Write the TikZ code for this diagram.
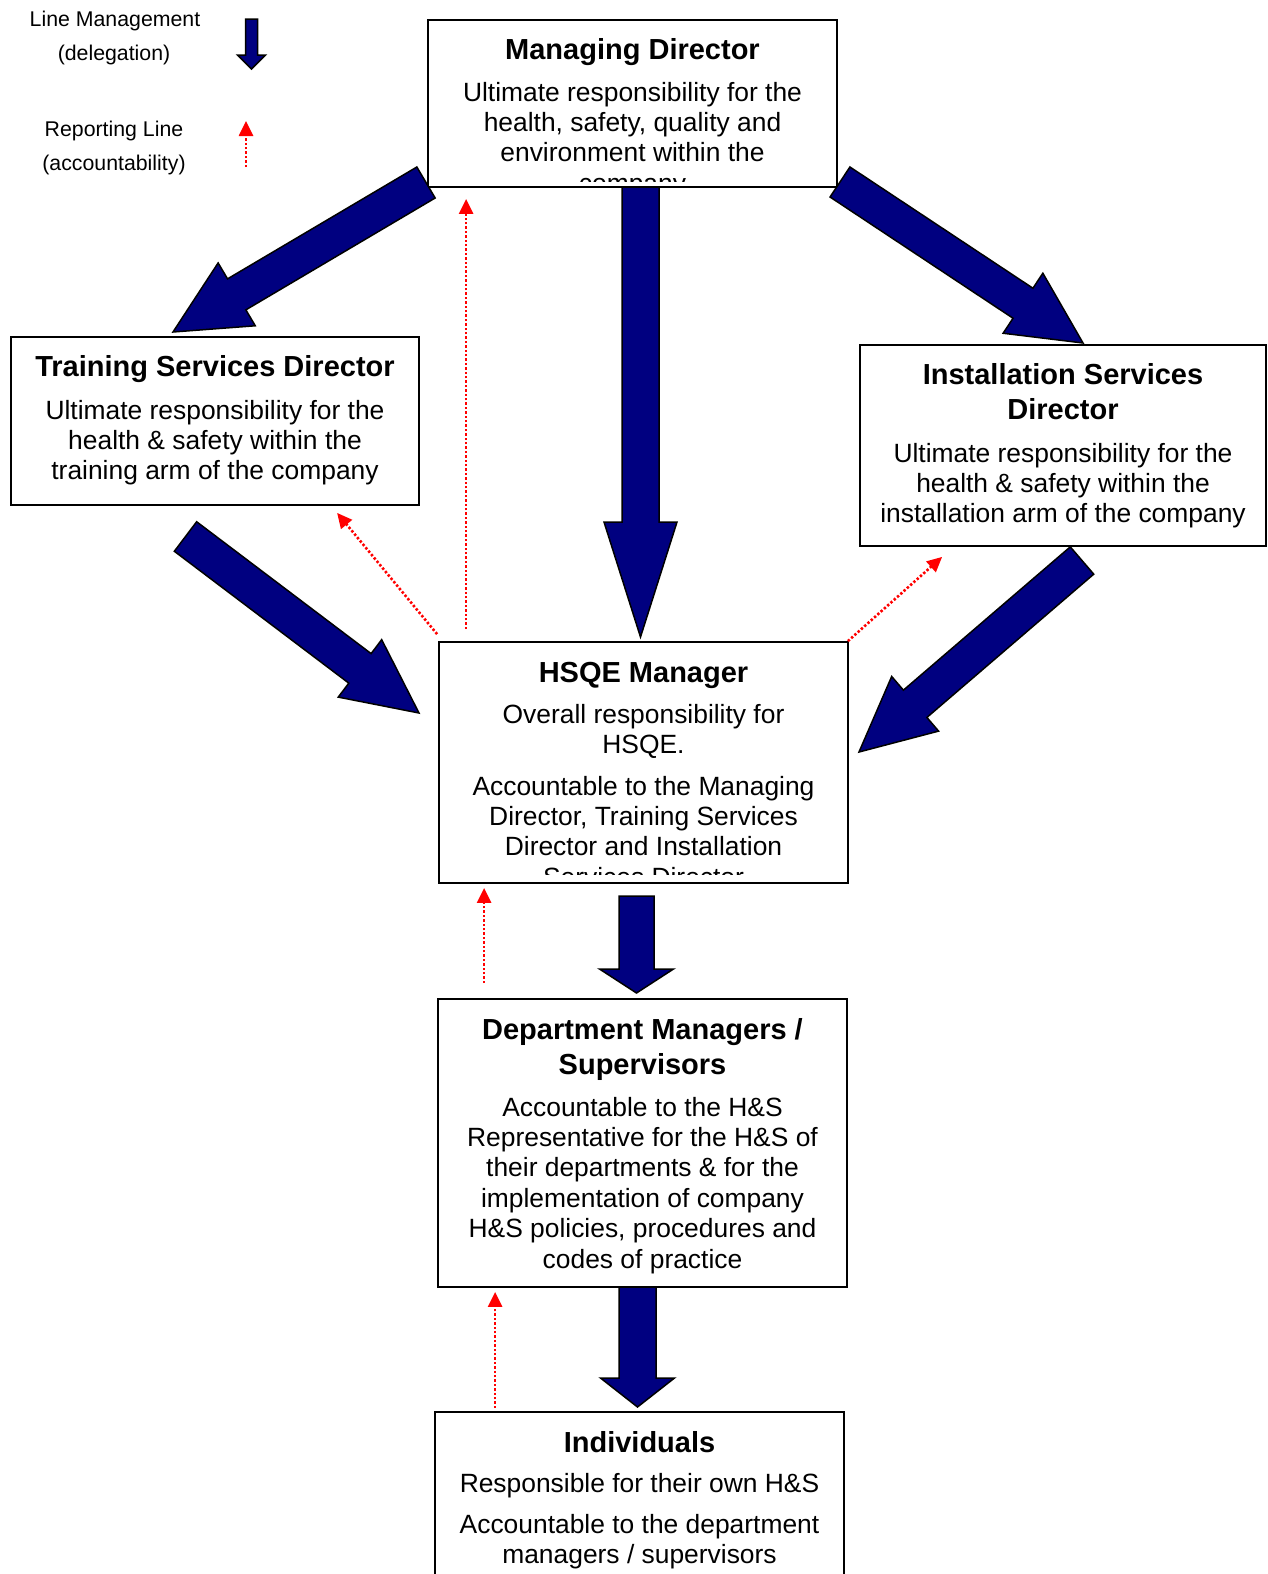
\documentclass[tikz,border=0pt]{standalone}
\usepackage{fontspec}
\setmainfont{Liberation Sans}
\usetikzlibrary{calc,arrows.meta}
\definecolor{navyfill}{RGB}{0,0,128}
\definecolor{redline}{RGB}{255,0,0}
\newcommand\fatarw[5]{%
  \coordinate (fah) at ($(#2)!#5!(#1)$);
  \filldraw[fatstyle]
    ($(#1)!#3!90:(#2)$) -- ($(fah)!#3!90:(#2)$) -- ($(fah)!#4!90:(#2)$) -- (#2)
    -- ($(fah)!#4!-90:(#2)$) -- ($(fah)!#3!-90:(#2)$) -- ($(#1)!#3!-90:(#2)$) -- cycle;}
\tikzset{
  box/.style={draw=black, line width=1.8pt, fill=white, rectangle, inner sep=0pt},
  ttl/.style={anchor=base, inner sep=0pt, font=\fontsize{29}{35}\selectfont\bfseries},
  bdy/.style={anchor=base, inner sep=0pt, font=\fontsize{26.4}{30.4}\selectfont},
  leg/.style={anchor=base, inner sep=0pt, font=\fontsize{21.3}{25}\selectfont},
  fatstyle/.style={fill=navyfill, draw=black, line width=1.5pt, line join=miter},
  rep/.style={draw=redline, line width=2.6pt, dash pattern=on 2.4pt off 2pt,
    -{Triangle[width=14pt,length=15pt,fill=redline]}}
}
\begin{document}
\begin{tikzpicture}[x=1pt,y=-1pt]
\clip (0,0) rectangle (1268,1574);
\useasboundingbox (0,0) rectangle (1268,1574);

% legend
\node[leg] (lg1) at (115,26.7) {Line Management};
\node[leg] (lg2) at (114,60) {(delegation)};
\node[leg] (lg3) at (114,136.7) {Reporting Line};
\node[leg] (lg4) at (114,170) {(accountability)};
\coordinate (lgt) at (251.5,19);
\coordinate (lgp) at (251.5,69);
\fatarw{lgt}{lgp}{6pt}{14pt}{14pt}
\coordinate (lrs) at (246,167);
\coordinate (lre) at (246,121);
\draw[rep] (lrs) -- (lre);

% boxes
\node[box, minimum width=409, minimum height=167] (md) at (632.5,103.5) {};
\node[box, minimum width=408, minimum height=168] (tsd) at (215,421) {};
\node[box, minimum width=406, minimum height=201] (isd) at (1063,445.5) {};
\node[box, minimum width=409, minimum height=241] (hsqe) at (643.5,762.5) {};
\node[box, minimum width=409, minimum height=288] (dept) at (642.5,1143) {};
\node[box, minimum width=409, minimum height=200] (ind) at (639.5,1512) {};

% texts: Managing Director
\begin{scope}
\clip (md.north west) rectangle ($(md.south east)+(0,-6)$);
\node[ttl] (mdt) at (632.5,59) {Managing Director};
\node[bdy] (mdb1) at (632.5,101) {Ultimate responsibility for the};
\node[bdy] (mdb2) at (632.5,131.4) {health, safety, quality and};
\node[bdy] (mdb3) at (632.5,161.8) {environment within the};
\node[bdy] (mdb4) at (632.5,192.2) {company};
\end{scope}

% Training Services Director
\node[ttl] (tsdt) at (215,376.5) {Training Services Director};
\node[bdy] (tsdb1) at (215,419) {Ultimate responsibility for the};
\node[bdy] (tsdb2) at (215,449.4) {health \& safety within the};
\node[bdy] (tsdb3) at (215,479.8) {training arm of the company};

% Installation Services Director
\node[ttl] (isdt1) at (1063,384.5) {Installation Services};
\node[ttl] (isdt2) at (1063,419.5) {Director};
\node[bdy] (isdb1) at (1063,462) {Ultimate responsibility for the};
\node[bdy] (isdb2) at (1063,492.4) {health \& safety within the};
\node[bdy] (isdb3) at (1063,522.8) {installation arm of the company};

% HSQE Manager
\begin{scope}
\clip (hsqe.north west) rectangle ($(hsqe.south east)+(0,-9.5)$);
\node[ttl] (hst) at (643.5,682) {HSQE Manager};
\node[bdy] (hsb1) at (643.5,723) {Overall responsibility for};
\node[bdy] (hsb2) at (643.5,753.4) {HSQE.};
\node[bdy] (hsb3) at (643.5,795) {Accountable to the Managing};
\node[bdy] (hsb4) at (643.5,825.4) {Director, Training Services};
\node[bdy] (hsb5) at (643.5,855.8) {Director and Installation};
\node[bdy] (hsb6) at (643.5,886.2) {Services Director};
\end{scope}

% Department Managers
\node[ttl] (dmt1) at (642.5,1039.5) {Department Managers /};
\node[ttl] (dmt2) at (642.5,1074.5) {Supervisors};
\node[bdy] (dmb1) at (642.5,1116) {Accountable to the H\&S};
\node[bdy] (dmb2) at (642.5,1146.4) {Representative for the H\&S of};
\node[bdy] (dmb3) at (642.5,1176.8) {their departments \& for the};
\node[bdy] (dmb4) at (642.5,1207.2) {implementation of company};
\node[bdy] (dmb5) at (642.5,1237.6) {H\&S policies, procedures and};
\node[bdy] (dmb6) at (642.5,1268) {codes of practice};

% Individuals
\node[ttl] (int) at (639.5,1452) {Individuals};
\node[bdy] (inb1) at (639.5,1492) {Responsible for their own H\&S};
\node[bdy] (inb2) at (639.5,1533) {Accountable to the department};
\node[bdy] (inb3) at (639.5,1563.4) {managers / supervisors};

% fat arrows (line management)
\coordinate (f1t) at (426,182.5);  \coordinate (f1p) at (173,332);
\coordinate (f2t) at (840,182);    \coordinate (f2p) at (1083,343);
\coordinate (f3t) at (640.5,187);  \coordinate (f3p) at (640.5,637);
\coordinate (f4t) at (185.5,536.5);\coordinate (f4p) at (419,713);
\coordinate (f5t) at (1082,560.5); \coordinate (f5p) at (859,752);
\coordinate (f6t) at (636.5,896);  \coordinate (f6p) at (636.5,993);
\coordinate (f7t) at (637.5,1287); \coordinate (f7p) at (637.5,1407);
\fatarw{f1t}{f1p}{18pt}{36.5pt}{74pt}
\fatarw{f2t}{f2p}{18pt}{36pt}{72pt}
\fatarw{f3t}{f3p}{18.5pt}{36.5pt}{115pt}
\fatarw{f4t}{f4p}{18.5pt}{36pt}{74pt}
\fatarw{f5t}{f5p}{18pt}{36pt}{74pt}
\fatarw{f6t}{f6p}{17.5pt}{37pt}{24pt}
\fatarw{f7t}{f7p}{18.5pt}{37pt}{29pt}

% reporting lines
\coordinate (r1s) at ($(hsqe.north west)+(28,-12)$);
\coordinate (r1e) at ($(md.south west)+(39,11)$);
\coordinate (r2s) at ($(hsqe.north west)+(-1,-7)$);
\coordinate (r2e) at ($(tsd.south west)+(327,7)$);
\coordinate (r3s) at ($(hsqe.north east)+(-1,0)$);
\coordinate (r3e) at ($(isd.south west)+(83,10)$);
\coordinate (r4s) at ($(dept.north west)+(47,-15)$);
\coordinate (r4e) at ($(hsqe.south west)+(46,4)$);
\coordinate (r5s) at ($(ind.north west)+(61,-3)$);
\coordinate (r5e) at ($(dept.south west)+(58,4)$);
\draw[rep] (r1s) -- (r1e);
\draw[rep] (r2s) -- (r2e);
\draw[rep] (r3s) -- (r3e);
\draw[rep] (r4s) -- (r4e);
\draw[rep] (r5s) -- (r5e);
\end{tikzpicture}
\end{document}
